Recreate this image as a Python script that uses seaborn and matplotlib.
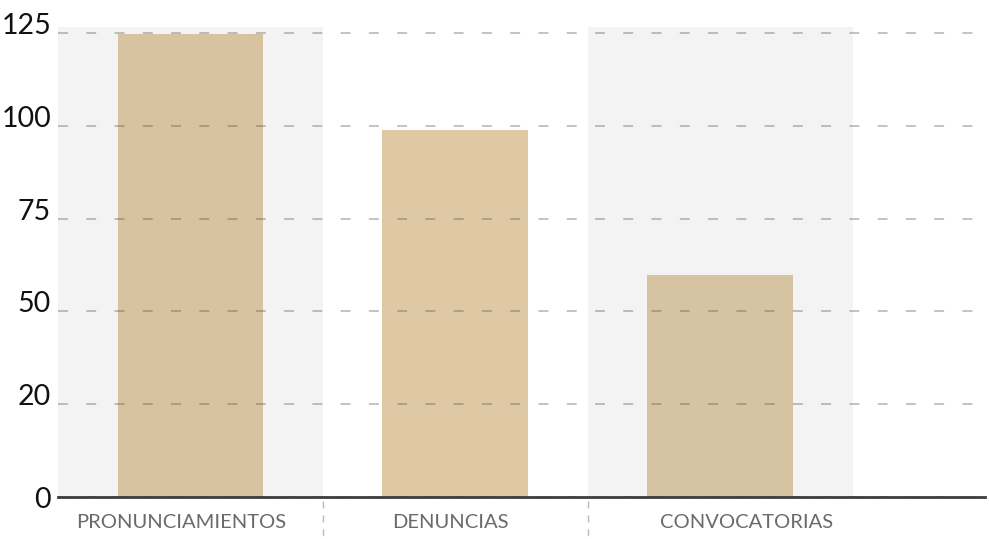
import matplotlib
matplotlib.use('Agg')
import matplotlib.pyplot as plt
import matplotlib.transforms as mtrans
import pandas as pd
import seaborn as sns

# data
categories = ['PRONUNCIAMIENTOS', 'DENUNCIAS', 'CONVOCATORIAS']
values = [124.6, 98.8, 59.8]
bar_colors = ['#d8c3a0', '#dfc8a4', '#d6c3a1']
ytick_pos = [0, 25, 50, 75, 100, 125]
ytick_labels = ['0', '20', '50', '75', '100', '125']

sns.set_theme(style='white')
plt.rcParams['font.family'] = ['Lato', 'DejaVu Sans']

df = pd.DataFrame({'cat': categories, 'val': values})

fig = plt.figure(figsize=(9.89, 5.39), dpi=100)
ax = fig.add_axes([58 / 989, 42 / 539, 927 / 989, 470 / 539])

# alternating background bands
for i in range(0, len(categories), 2):
    ax.axvspan(i - 0.5, i + 0.5, color='#f3f3f3', zorder=0, lw=0)

sns.barplot(data=df, x='cat', y='val', hue='cat', palette=bar_colors,
            legend=False, width=0.55, ax=ax, saturation=1, zorder=1,
            linewidth=0, edgecolor='none')

ax.set_xlim(-0.5, 3.0)
ax.set_ylim(0, 126.6)

ax.set_axisbelow(False)
ax.yaxis.grid(True, color='#555555', alpha=0.45, lw=1.1, linestyle=(0, (6.5, 12)))
ax.xaxis.grid(False)

for s in ['left', 'right', 'top']:
    ax.spines[s].set_visible(False)
ax.spines['bottom'].set_color('#3d3d3d')
ax.spines['bottom'].set_linewidth(2)
ax.spines['bottom'].set_zorder(5)

ax.set_yticks(ytick_pos)
ax.set_yticklabels(ytick_labels, fontsize=20.5, color='#111111')
ax.tick_params(axis='y', length=0, pad=5)
for t in ax.get_yticklabels():
    if t.get_text() != '0':
        t.set_va('bottom')
        t.set_transform(t.get_transform() + mtrans.ScaledTranslation(0, -0.06, fig.dpi_scale_trans))

ax.set_xticks(range(len(categories)))
ax.set_xticklabels(categories, fontsize=14.5, color='#6a6a6a')
ax.tick_params(axis='x', length=0, pad=12)
shifts = [-0.09, -0.05, 0.26]
for t, dx in zip(ax.get_xticklabels(), shifts):
    t.set_transform(t.get_transform() + mtrans.ScaledTranslation(dx, 0, fig.dpi_scale_trans))

ax.set_xlabel('')
ax.set_ylabel('')

# dashed separators under the axis between categories
trans = mtrans.blended_transform_factory(ax.transData, ax.transAxes)
for i in range(len(categories) - 1):
    ax.plot([i + 0.5, i + 0.5], [-0.008, -0.1], transform=trans, clip_on=False,
            color='#bbbbbb', lw=1, linestyle=(0, (5, 5)))

fig.savefig('out.png', dpi=100)
